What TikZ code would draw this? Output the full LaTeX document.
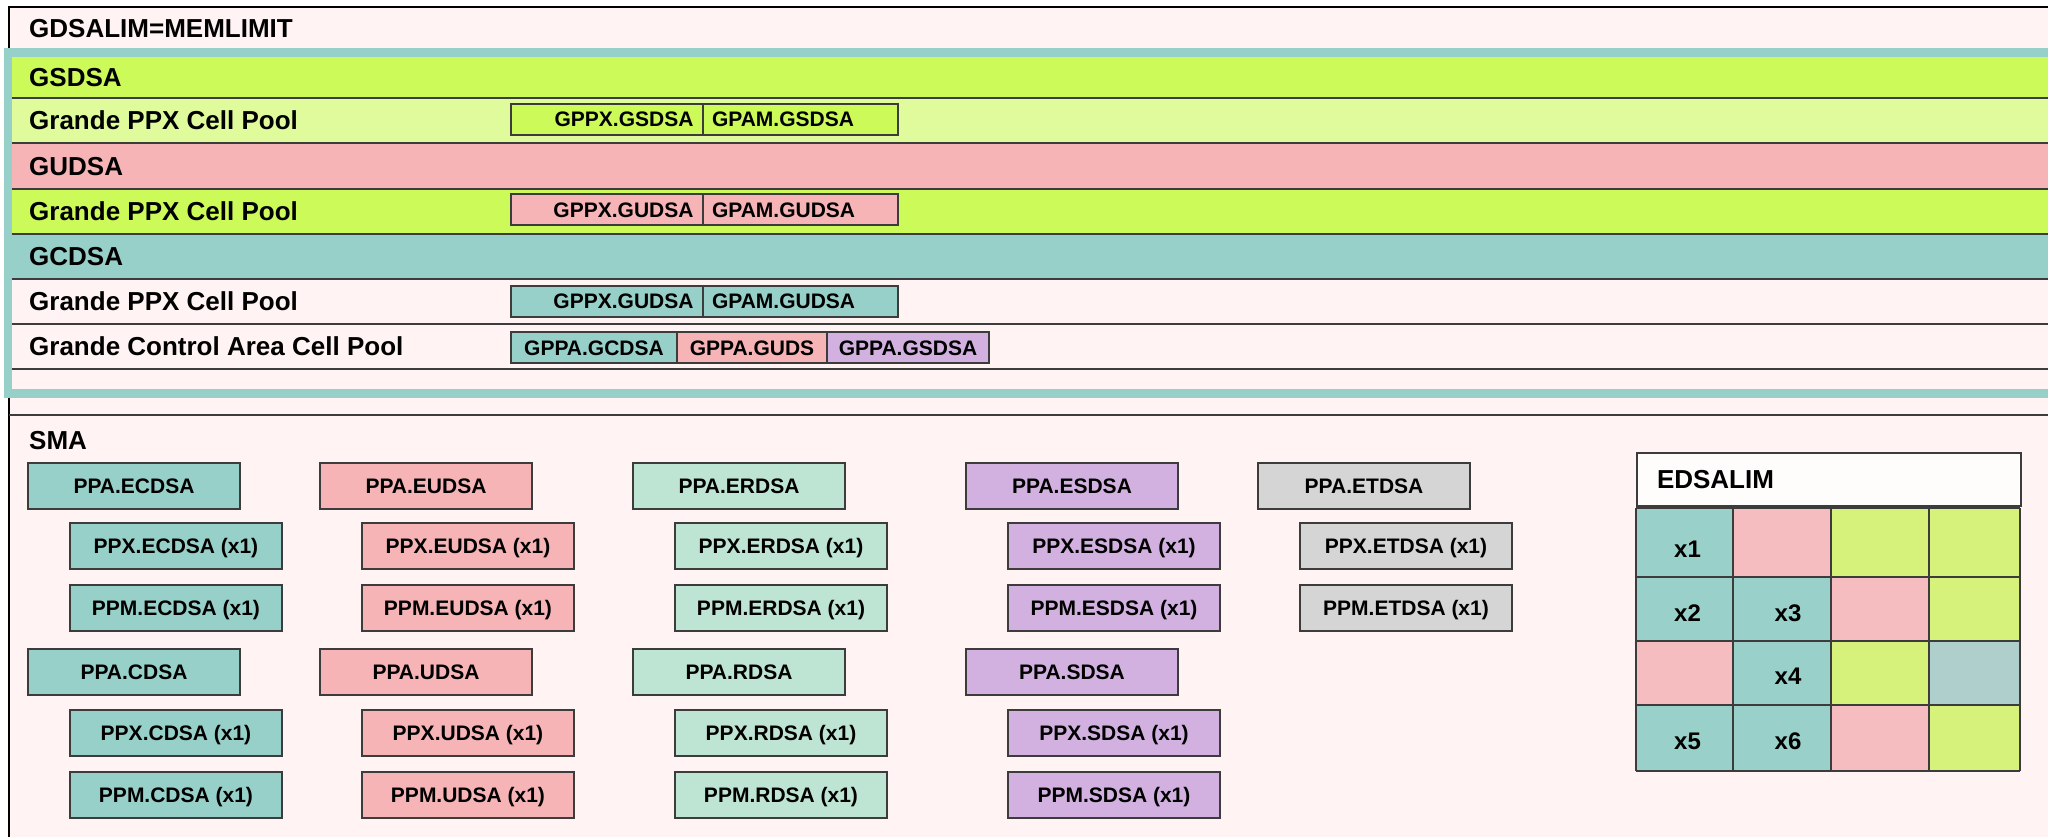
\documentclass[tikz,border=0pt]{standalone}
\usepackage{fontspec}
\setmainfont{Liberation Sans}
\definecolor{cBg}{HTML}{FFF3F3}
\definecolor{cLime}{HTML}{CBFA59}
\definecolor{cLimeLt}{HTML}{DFFB9B}
\definecolor{cPink}{HTML}{F6B4B6}
\definecolor{cTeal}{HTML}{97D0C9}
\definecolor{cMint}{HTML}{BEE4D3}
\definecolor{cPurple}{HTML}{D2B1E1}
\definecolor{cGrey}{HTML}{D5D5D5}
\definecolor{gTeal}{HTML}{99D1CA}
\definecolor{gPink}{HTML}{F5BDBF}
\definecolor{gYg}{HTML}{D7F27A}
\definecolor{gGrey}{HTML}{AFCFCD}
\definecolor{cEdge}{HTML}{3C3C3C}
\definecolor{cHead}{HTML}{FFFCFC}
\newcommand\fHead{\fontsize{26}{30}\selectfont\bfseries}
\newcommand\fBox{\fontsize{21}{25}\selectfont\bfseries}
\newcommand\fGrid{\fontsize{24}{28}\selectfont\bfseries}
\begin{document}
\begin{tikzpicture}[x=1pt,y=-1pt,
  lbl/.style={anchor=base west, inner sep=0pt, font=\fHead},
  cell/.style={draw=cEdge, line width=2pt, minimum height=31pt, inner sep=0pt,
    font=\fBox, text height=15pt, text depth=0pt},
  lcell/.style={cell, anchor=west, text width=173pt, align=right, inner xsep=9.5pt},
  rcell/.style={cell, anchor=west, text width=177pt, align=left, inner xsep=9pt},
  smabox/.style={draw=cEdge, line width=2pt, minimum width=212pt, minimum height=46pt,
    inner sep=0pt, font=\fBox, text height=15pt, text depth=0pt},
  rule/.style={draw=cEdge, line width=1.8pt},
  glbl/.style={inner sep=0pt, font=\fGrid, text height=17.2pt, text depth=0pt}
]
\useasboundingbox (0,0) rectangle (2048,837);
\clip (0,0) rectangle (2048,837);
\fill[white] (0,0) rectangle (2048,837);

% outer frame of the address space
\draw[fill=cBg, line width=2.6pt] (9,7) rectangle (2120,900);

% grande area bands
\fill[cLime]   (12,57)  rectangle (2120,98);
\fill[cLimeLt] (12,98)  rectangle (2120,143);
\fill[cPink]   (12,143) rectangle (2120,189);
\fill[cLime]   (12,189) rectangle (2120,234);
\fill[cTeal]   (12,234) rectangle (2120,279);
\foreach \y in {98,143,189,234,279,324,369}
  \draw[rule] (12,\y) -- (2120,\y);
\draw[cTeal, line width=8.5pt] (8,52.5) rectangle (2120,393.5);
\draw[rule] (9,415) -- (2120,415);

% band labels
\node[lbl] (memlimit) at (29,38)    {GDSALIM=MEMLIMIT};
\node[lbl] (gsdsa)    at (29,86.8)  {GSDSA};
\node[lbl] (gpool1)   at (29,129.8) {Grande PPX Cell Pool};
\node[lbl] (gudsa)    at (29,175.3) {GUDSA};
\node[lbl] (gpool2)   at (29,220.8) {Grande PPX Cell Pool};
\node[lbl] (gcdsa)    at (29,265.8) {GCDSA};
\node[lbl] (gpool3)   at (29,310.8) {Grande PPX Cell Pool};
\node[lbl] (gctl)     at (29,355.8) {Grande Control Area Cell Pool};

% cell pools
\node[lcell, fill=cLime] (gppx1) at (510,119.5) {GPPX.GSDSA};
\node[rcell, fill=cLime] (gpam1) at (702,119.5) {GPAM.GSDSA};
\node[lcell, fill=cPink] (gppx2) at (510,210)   {GPPX.GUDSA};
\node[rcell, fill=cPink] (gpam2) at (702,210)   {GPAM.GUDSA};
\node[lcell, fill=cTeal] (gppx3) at (510,301)   {GPPX.GUDSA};
\node[rcell, fill=cTeal] (gpam3) at (702,301)   {GPAM.GUDSA};
\node[cell, fill=cTeal,   anchor=west, minimum width=166pt] (gppa1) at (510,347.5) {GPPA.GCDSA};
\node[cell, fill=cPink,   anchor=west, minimum width=150pt] (gppa2) at (676,347.5) {GPPA.GUDS};
\node[cell, fill=cPurple, anchor=west, minimum width=162pt] (gppa3) at (826,347.5) {GPPA.GSDSA};

% SMA
\node[lbl] (sma) at (29,449) {SMA};
\foreach \x/\c/\e/\s in {28/cTeal/ECDSA/CDSA, 320/cPink/EUDSA/UDSA,
                         633/cMint/ERDSA/RDSA, 966/cPurple/ESDSA/SDSA} {
  \node[smabox, fill=\c] (pa-\e) at (\x+106,485.5) {PPA.\e};
  \node[smabox, fill=\c] (px-\e) at (\x+148,546)   {PPX.\e\ (x1)};
  \node[smabox, fill=\c] (pm-\e) at (\x+148,608)   {PPM.\e\ (x1)};
  \node[smabox, fill=\c] (pa-\s) at (\x+106,672)   {PPA.\s};
  \node[smabox, fill=\c] (px-\s) at (\x+148,733)   {PPX.\s\ (x1)};
  \node[smabox, fill=\c] (pm-\s) at (\x+148,795)   {PPM.\s\ (x1)};
}
\node[smabox, fill=cGrey] (pa-ETDSA) at (1364,485.5) {PPA.ETDSA};
\node[smabox, fill=cGrey] (px-ETDSA) at (1406,546)   {PPX.ETDSA (x1)};
\node[smabox, fill=cGrey] (pm-ETDSA) at (1406,608)   {PPM.ETDSA (x1)};

% EDSALIM
\node[draw=cEdge, line width=2.2pt, fill=cHead, minimum height=53pt, inner ysep=0pt,
      text width=344pt, inner xsep=20pt, align=left, font=\fHead,
      text height=18.6pt, text depth=0pt] (edsalim) at (1829,479.5) {EDSALIM};
\def\gx{{1636,1733,1831,1929,2020}}
\def\gy{{508,577,641,705,771}}
\foreach \r/\cols in {0/{gTeal,gPink,gYg,gYg}, 1/{gTeal,gTeal,gPink,gYg},
                      2/{gPink,gTeal,gYg,gGrey}, 3/{gTeal,gTeal,gPink,gYg}} {
  \foreach \c [count=\k from 0] in \cols {
    \pgfmathsetmacro\xa{\gx[\k]}
    \pgfmathsetmacro\xb{\gx[\k+1]}
    \pgfmathsetmacro\ya{\gy[\r]}
    \pgfmathsetmacro\yb{\gy[\r+1]}
    \fill[\c] (\xa,\ya) rectangle (\xb,\yb);
  }
}
\foreach \x in {1636,1733,1831,1929,2020} \draw[rule] (\x,508) -- (\x,771);
\foreach \y in {508,577,641,705,771} \draw[rule] (1636,\y) -- (2020,\y);
\node[glbl] (x1) at (1687.5,548.5) {x1};
\node[glbl] (x2) at (1687.5,612.5) {x2};
\node[glbl] (x3) at (1788,612.5)   {x3};
\node[glbl] (x4) at (1788,676)     {x4};
\node[glbl] (x5) at (1687.5,740.5) {x5};
\node[glbl] (x6) at (1788,740.5)   {x6};
\end{tikzpicture}
\end{document}
